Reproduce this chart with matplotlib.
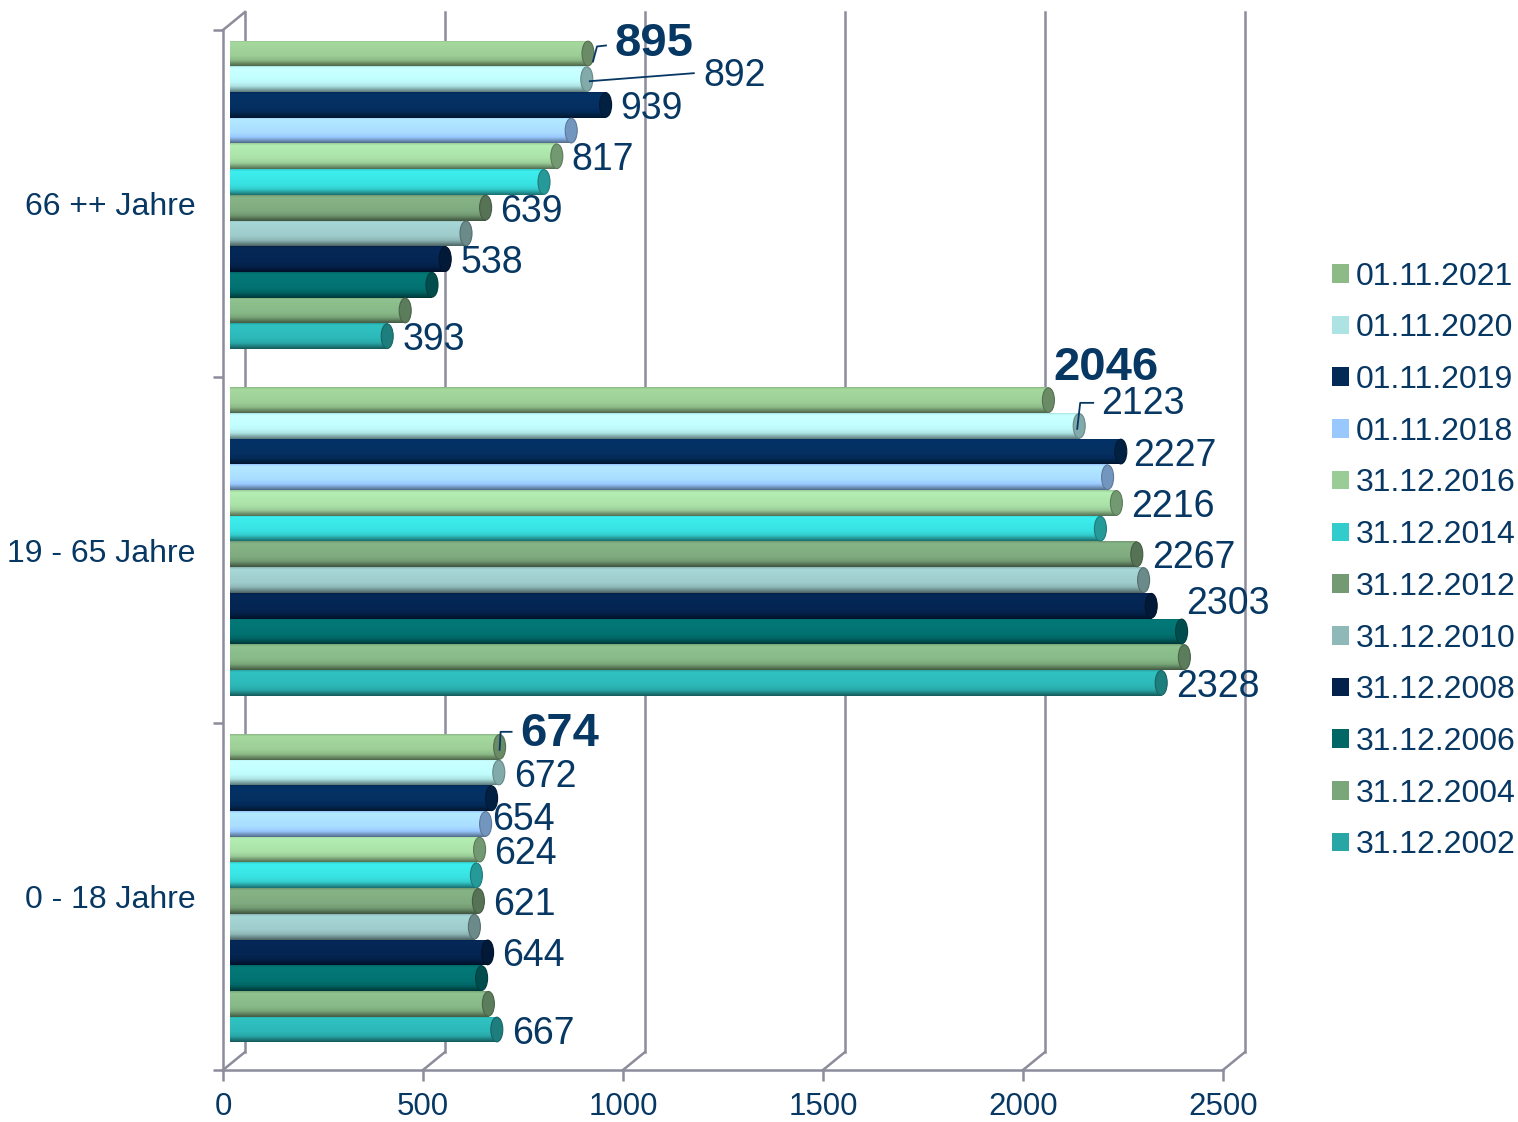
import numpy as np
import matplotlib.pyplot as plt
from matplotlib.patches import Ellipse
from matplotlib import colors as mcolors

plt.rcParams['font.family'] = ['Liberation Sans', 'DejaVu Sans']

# Daten
kategorien = ['66 ++ Jahre', '19 - 65 Jahre', '0 - 18 Jahre']
stichtage = ['01.11.2021', '01.11.2020', '01.11.2019', '01.11.2018', '31.12.2016', '31.12.2014',
             '31.12.2012', '31.12.2010', '31.12.2008', '31.12.2006', '31.12.2004', '31.12.2002']
alt_66 = [895, 892, 939, 853, 817, 785, 639, 590, 538, 505, 438, 393]
mitte_19_65 = [2046, 2123, 2227, 2194, 2216, 2176, 2267, 2284, 2303, 2379, 2386, 2328]
jung_0_18 = [674, 672, 654, 639, 624, 616, 621, 611, 644, 629, 646, 667]
# nur diese Stichtage haben eine Beschriftung
beschriftet = [0, 1, 2, 4, 6, 8, 11]

farben = ['#8dba87', '#ade3e3', '#032a57', '#99c8ff', '#9acc98', '#33cccc',
          '#739a73', '#8fb8b8', '#03214a', '#016766', '#7aa67a', '#28a6a6']
textfarbe = '#073763'
gitterfarbe = '#8c8c9c'

werte = np.array([alt_66, mitte_19_65, jung_0_18])  # [kategorie, stichtag]

fig = plt.figure(figsize=(15.18, 11.22), dpi=100)
ax = fig.add_axes([223 / 1518, 52 / 1122, 1000 / 1518, 1040 / 1122])

# pixel -> daten
PX_X = 2500 / 1000
PX_Y = 3 / 1040
bar_dx = 7 * PX_X
bar_dy = -8.5 * PX_Y
wand_dx = 22 * PX_X
wand_dy = -18 * PX_Y
slot = 25.7 * PX_Y
mitten = np.arange(len(kategorien)) + 0.5


def ton(c, x):
    c = np.array(mcolors.to_rgb(c))
    if x > 0:
        return np.clip(c * (1 + x) + 0.04 * x, 0, 1)
    return c * (1 + x)


def verlauf(c, n=40):
    # zylinder-effekt: oben hell, unten dunkler
    t = np.linspace(0, 1, n)
    stuetz_t = [0.0, 0.08, 0.25, 0.6, 0.78, 1.0]
    stuetz_f = [0.0, 0.16, 0.14, 0.1, 0.0, -0.45]
    f = np.interp(t, stuetz_t, stuetz_f)
    return np.array([ton(c, x) for x in f]).reshape(n, 1, 3)


# rueckwand und boden
for v in range(0, 2501, 500):
    ax.plot([v + wand_dx, v + wand_dx], [wand_dy, 3 + wand_dy], color=gitterfarbe, lw=1.8,
            zorder=1, clip_on=False)
    ax.plot([v, v + wand_dx], [3, 3 + wand_dy], color=gitterfarbe, lw=1.8, zorder=1, clip_on=False)
ax.plot([0, wand_dx], [0, wand_dy], color=gitterfarbe, lw=1.8, zorder=1, clip_on=False)

# balken
for j, (tag, farbe) in enumerate(zip(stichtage, farben)):
    y = mitten + bar_dy + (j - 5.5) * slot
    cont = ax.barh(y, werte[:, j], height=slot, left=bar_dx, color=farbe, label=tag,
                   zorder=3, linewidth=0)
    for k, patch in enumerate(cont.patches):
        x0 = bar_dx
        x1 = bar_dx + werte[k, j]
        im = ax.imshow(verlauf(farbe), extent=[x0, x1, y[k] + slot / 2, y[k] - slot / 2],
                       aspect='auto', interpolation='bilinear', zorder=3.5)
        im.set_clip_path(patch)
        kappe = Ellipse((x1, y[k]), 30, slot * 0.96, facecolor=ton(farbe, -0.25),
                        edgecolor=ton(farbe, -0.4), lw=0.8, zorder=4)
        ax.add_patch(kappe)

# beschriftungen: versatz in pixel (rechts, unten)
versatz = {
    (0, 0): (27, -9), (0, 1): (117, -3),
    (1, 0): (5, -32), (1, 1): (22, -22), (1, 2): (12, 4), (1, 8): (35, -2),
    (2, 0): (21, -13), (2, 2): (1, 22),
}
fuehrung = {
    (0, 0): [(5, 8), (9, -7), (18, -8)],
    (0, 1): [(3, 2), (107, -6)],
    (1, 1): [(-2, 3), (1, -23), (14, -23)],
    (2, 0): [(0, 3), (1, -15), (12, -15)],
}
for k in range(len(kategorien)):
    for j in beschriftet:
        v = werte[k, j]
        xa = bar_dx + v
        ya = mitten[k] + bar_dy + (j - 5.5) * slot
        dx, dy = versatz.get((k, j), (15, 4))
        fett = j == 0
        ax.annotate(str(v), xy=(xa, ya), xytext=(dx, -dy), textcoords='offset pixels',
                    ha='left', va='center', color=textfarbe,
                    fontsize=34 if fett else 27, fontweight='bold' if fett else 'normal',
                    zorder=6, annotation_clip=False)
        if (k, j) in fuehrung:
            pts = fuehrung[(k, j)]
            ax.plot([xa + p[0] * PX_X for p in pts], [ya + p[1] * PX_Y for p in pts],
                    color=textfarbe, lw=1.3, zorder=6, clip_on=False)

# achsen
ax.set_xlim(0, 2500)
ax.set_ylim(3, 0)
ax.set_xticks(range(0, 2501, 500))
ax.tick_params(axis='x', length=8, width=1.8, color=gitterfarbe, labelsize=22.5,
               labelcolor=textfarbe, pad=8)
ax.set_yticks(mitten)
ax.set_yticklabels(kategorien)
ax.set_yticks(range(4), minor=True)
ax.tick_params(axis='y', which='major', length=0, labelsize=23, labelcolor=textfarbe, pad=20)
ax.tick_params(axis='y', which='minor', length=7, width=1.8, color=gitterfarbe)
for s in ['top', 'right']:
    ax.spines[s].set_visible(False)
for s in ['left', 'bottom']:
    ax.spines[s].set_color(gitterfarbe)
    ax.spines[s].set_linewidth(1.8)
ax.set_facecolor('none')

fig.legend(loc='center left', bbox_to_anchor=(1332 / 1518, 1 - 561 / 1122), frameon=False,
           fontsize=23, labelcolor=textfarbe, handlelength=0.52, handleheight=0.52,
           handletextpad=0.22, labelspacing=0.68, borderpad=0, borderaxespad=0)

fig.savefig('out.png', dpi=100)
